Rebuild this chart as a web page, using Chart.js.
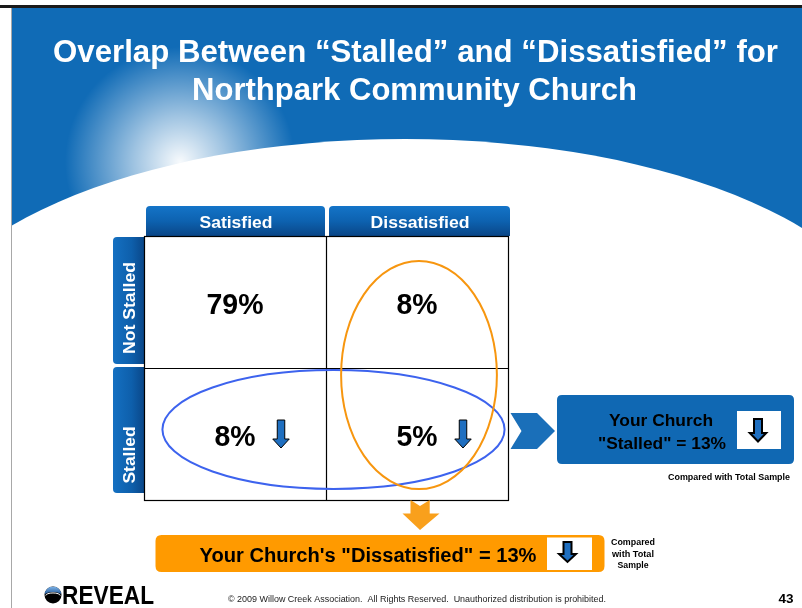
<!DOCTYPE html>
<html><head><meta charset="utf-8">
<script src="https://cdn.jsdelivr.net/npm/chart.js@4.4.1/dist/chart.umd.min.js"></script>
<style>html,body{margin:0;padding:0;background:#fff;overflow:hidden}canvas{display:block}</style>
</head><body>
<canvas id="c" width="802" height="608" style="width:802px;height:608px"></canvas>
<script>
// ---- data ----
const titleLines = ['Overlap Between \u201cStalled\u201d and \u201cDissatisfied\u201d for', 'Northpark Community Church'];
const satisfaction = ['Satisfied', 'Dissatisfied'];
const stallStatus = ['Not Stalled', 'Stalled'];
const cellSatisfaction = ['Satisfied', 'Dissatisfied', 'Satisfied', 'Dissatisfied'];
const cellStatus = ['Not Stalled', 'Not Stalled', 'Stalled', 'Stalled'];
const cellPercent = [79, 8, 8, 5];
const cellTrendDown = [false, false, true, true];
const stalledTotal = 13;
const dissatisfiedTotal = 13;
const footerText = '\u00a9 2009 Willow Creek Association.  All Rights Reserved.  Unauthorized distribution is prohibited.';
const pageNumber = '43';

const FONT = '"Liberation Sans", Arial, Helvetica, sans-serif';

function fitText(ctx, text, x, y, size, color, width, align, weight) {
  ctx.save();
  ctx.font = (weight || 'bold') + ' ' + size + 'px ' + FONT;
  ctx.fillStyle = color;
  ctx.textBaseline = 'alphabetic';
  ctx.textAlign = align || 'center';
  const m = ctx.measureText(text).width;
  const s = width ? width / m : 1;
  ctx.translate(x, y);
  ctx.scale(s, 1);
  ctx.fillText(text, 0, 0);
  ctx.restore();
}
function rr(ctx, x, y, w, h, r) { // r = [tl,tr,br,bl]
  const [tl, tr, br, bl] = r;
  ctx.beginPath();
  ctx.moveTo(x + tl, y);
  ctx.lineTo(x + w - tr, y); ctx.quadraticCurveTo(x + w, y, x + w, y + tr);
  ctx.lineTo(x + w, y + h - br); ctx.quadraticCurveTo(x + w, y + h, x + w - br, y + h);
  ctx.lineTo(x + bl, y + h); ctx.quadraticCurveTo(x, y + h, x, y + h - bl);
  ctx.lineTo(x, y + tl); ctx.quadraticCurveTo(x, y, x + tl, y);
  ctx.closePath();
}
function downArrow(ctx, cx, top, headTop, tip, shaftW, headW, fill, stroke, lw) {
  ctx.save();
  ctx.beginPath();
  ctx.moveTo(cx - shaftW / 2, top);
  ctx.lineTo(cx + shaftW / 2, top);
  ctx.lineTo(cx + shaftW / 2, headTop);
  ctx.lineTo(cx + headW / 2, headTop);
  ctx.lineTo(cx, tip);
  ctx.lineTo(cx - headW / 2, headTop);
  ctx.lineTo(cx - shaftW / 2, headTop);
  ctx.closePath();
  ctx.fillStyle = fill; ctx.fill();
  ctx.lineWidth = lw; ctx.strokeStyle = stroke; ctx.lineJoin = 'miter'; ctx.stroke();
  ctx.restore();
}

const slidePlugin = {
  id: 'slide',
  beforeDraw(chart) {
    const ctx = chart.ctx, ca = chart.chartArea, xs = chart.scales.x, ys = chart.scales.y;
    ctx.save();
    ctx.fillStyle = '#fff'; ctx.fillRect(0, 0, chart.width, chart.height);
    // header band
    ctx.fillStyle = '#106bb6'; ctx.fillRect(12, 8, 790, 235);
    const g = ctx.createRadialGradient(180, 162, 0, 180, 162, 115);
    g.addColorStop(0, 'rgba(255,255,255,0.97)');
    g.addColorStop(0.4, 'rgba(255,255,255,0.6)');
    g.addColorStop(1, 'rgba(255,255,255,0)');
    ctx.fillStyle = g; ctx.fillRect(12, 8, 790, 235);
    ctx.fillStyle = '#fff';
    ctx.beginPath(); ctx.ellipse(405, 354, 490, 215, 0, 0, Math.PI * 2); ctx.fill();
    // frame lines
    ctx.fillStyle = '#a8a8a8'; ctx.fillRect(11, 8, 1, 600);
    ctx.fillStyle = '#1a1a1a'; ctx.fillRect(0, 5, 802, 3);
    // title
    fitText(ctx, titleLines[0], 415.5, 62, 32, '#fff', 725);
    fitText(ctx, titleLines[1], 414.5, 100, 32, '#fff', 445);

    // column header tabs
    const mid = (xs.getPixelForValue(0) + xs.getPixelForValue(1)) / 2;
    const tabTop = ca.top - 30;
    const tabs = [[ca.left + 2, mid - 1], [mid + 3, ca.right + 2]];
    tabs.forEach((t, i) => {
      const gr = ctx.createLinearGradient(0, tabTop, 0, ca.top);
      gr.addColorStop(0, '#1474c8'); gr.addColorStop(0.5, '#0d62b0'); gr.addColorStop(1, '#0a4687');
      ctx.fillStyle = gr;
      rr(ctx, t[0], tabTop, t[1] - t[0], 30, [4, 4, 0, 0]); ctx.fill();
      const w = i === 0 ? 73 : 99;
      fitText(ctx, satisfaction[i], (t[0] + t[1]) / 2 + 0.5, tabTop + 22, 17, '#fff', w);
    });
    // row tabs
    const rmid = (ys.getPixelForValue(0) + ys.getPixelForValue(1)) / 2;
    const rows = [[ca.top + 1, rmid - 4], [rmid - 1, ca.bottom - 7]];
    rows.forEach((r, i) => {
      const gr = ctx.createLinearGradient(ca.left - 31, 0, ca.left, 0);
      gr.addColorStop(0, '#1470c2'); gr.addColorStop(0.6, '#0e5fab'); gr.addColorStop(1, '#0a4789');
      ctx.fillStyle = gr;
      rr(ctx, ca.left - 31, r[0], 31, r[1] - r[0], [4, 0, 0, 4]); ctx.fill();
      ctx.save();
      const cy = i === 0 ? 308 : 455;
      ctx.translate(ca.left - 9, cy);
      ctx.rotate(-Math.PI / 2);
      fitText(ctx, stallStatus[i], 0, 0, 17, '#fff', i === 0 ? 92 : 57);
      ctx.restore();
    });
    ctx.restore();
  },
  beforeDatasetsDraw(chart) {
    const ctx = chart.ctx, ca = chart.chartArea, xs = chart.scales.x, ys = chart.scales.y;
    const mid = (xs.getPixelForValue(0) + xs.getPixelForValue(1)) / 2;
    const rmid = (ys.getPixelForValue(0) + ys.getPixelForValue(1)) / 2;
    ctx.save();
    ctx.strokeStyle = '#000'; ctx.lineWidth = 1.2;
    ctx.strokeRect(ca.left + 0.5, ca.top + 0.5, ca.right - ca.left, ca.bottom - ca.top);
    ctx.beginPath();
    ctx.moveTo(mid + 0.5, ca.top); ctx.lineTo(mid + 0.5, ca.bottom + 0.5);
    ctx.moveTo(ca.left, rmid + 0.5); ctx.lineTo(ca.right + 0.5, rmid + 0.5);
    ctx.stroke();
    ctx.restore();
  },
  afterDatasetsDraw(chart) {
    const ctx = chart.ctx, ca = chart.chartArea, xs = chart.scales.x, ys = chart.scales.y;
    const meta = chart.getDatasetMeta(0);
    ctx.save();
    meta.data.forEach((pt, i) => {
      const p = cellPercent[i] + '%';
      fitText(ctx, p, pt.x, pt.y + 12, 29, '#000', p.length === 3 ? 57 : 41);
      if (cellTrendDown[i]) {
        downArrow(ctx, pt.x + 46, pt.y - 14, pt.y + 5, pt.y + 14, 7.5, 16.5, '#1f6fc0', '#000', 1);
      }
    });
    // ellipses
    const W = ca.right - ca.left, H = ca.bottom - ca.top;
    const xMid = (xs.getPixelForValue(0) + xs.getPixelForValue(1)) / 2;
    const yStalled = ys.getPixelForValue(1);
    const xDis = xs.getPixelForValue(1);
    const yMid = (ys.getPixelForValue(0) + ys.getPixelForValue(1)) / 2;
    ctx.lineWidth = 2;
    ctx.strokeStyle = '#3d63ee';
    ctx.beginPath(); ctx.ellipse(xMid + 7.5, yStalled - 4.5, W * 0.47, H * 0.225, 0, 0, Math.PI * 2); ctx.stroke();
    ctx.strokeStyle = '#f7960f';
    ctx.beginPath(); ctx.ellipse(xDis + 2, yMid + 7, W * 0.214, H * 0.432, 0, 0, Math.PI * 2); ctx.stroke();

    // right chevron + box
    ctx.fillStyle = '#1a6fb9';
    ctx.beginPath();
    ctx.moveTo(510.5, 413); ctx.lineTo(537, 413); ctx.lineTo(555, 431); ctx.lineTo(537, 449);
    ctx.lineTo(510.5, 449); ctx.lineTo(521.5, 431); ctx.closePath(); ctx.fill();
    ctx.fillStyle = '#1068b3';
    rr(ctx, 557, 395, 237, 69, [5, 5, 5, 5]); ctx.fill();
    ctx.fillStyle = '#fff'; ctx.fillRect(737, 411, 44, 38);
    downArrow(ctx, 758, 419, 433, 441.5, 8, 16.5, '#1f6fc0', '#000', 2);
    fitText(ctx, 'Your Church', 661, 426, 17, '#000', 104);
    fitText(ctx, '"Stalled" = ' + stalledTotal + '%', 662, 448.5, 17, '#000', 128);
    fitText(ctx, 'Compared with Total Sample', 729, 480, 9, '#000', 122);

    // bottom orange chevron + box
    ctx.fillStyle = '#f9a01c';
    ctx.beginPath();
    ctx.moveTo(410.5, 500); ctx.lineTo(420, 506); ctx.lineTo(429.7, 500); ctx.lineTo(429.7, 513.5);
    ctx.lineTo(439.5, 513.5); ctx.lineTo(420, 530); ctx.lineTo(402.5, 513.5); ctx.lineTo(410.5, 513.5);
    ctx.closePath(); ctx.fill();
    ctx.fillStyle = '#ff9a00';
    rr(ctx, 155.5, 535, 449, 37, [6, 6, 6, 6]); ctx.fill();
    ctx.fillStyle = '#fff'; ctx.fillRect(547, 537.5, 45, 32.5);
    downArrow(ctx, 567.5, 542, 554, 562, 8, 17, '#1f6fc0', '#000', 2);
    fitText(ctx, 'Your Church\'s "Dissatisfied" = ' + dissatisfiedTotal + '%', 368, 561.5, 20, '#000', 337);
    fitText(ctx, 'Compared', 633, 545, 9, '#000', 44);
    fitText(ctx, 'with Total', 633, 556.5, 9, '#000', 42);
    fitText(ctx, 'Sample', 633, 568, 9, '#000', 31);

    // footer
    fitText(ctx, footerText, 417, 602, 9, '#222', 378, 'center', 'normal');
    fitText(ctx, pageNumber, 786, 603, 12, '#000', 15);
    // REVEAL logo
    const lx = 53, ly = 595, lr = 8.5;
    ctx.fillStyle = '#000';
    ctx.beginPath(); ctx.arc(lx, ly, lr, 0, Math.PI * 2); ctx.fill();
    ctx.save();
    ctx.beginPath(); ctx.arc(lx, ly, lr, 0, Math.PI * 2); ctx.clip();
    const bg = ctx.createLinearGradient(0, ly - lr, 0, ly);
    bg.addColorStop(0, '#7fb5ea'); bg.addColorStop(1, '#1b4f8e');
    ctx.fillStyle = bg;
    ctx.beginPath(); ctx.ellipse(lx, ly, lr, lr * 0.35, 0, Math.PI, 0, false); ctx.lineTo(lx + lr, ly - lr); ctx.lineTo(lx - lr, ly - lr); ctx.closePath(); ctx.fill();
    ctx.strokeStyle = '#fff'; ctx.lineWidth = 1;
    ctx.beginPath(); ctx.ellipse(lx, ly + 0.5, lr * 0.85, lr * 0.3, 0, Math.PI, 0, false); ctx.stroke();
    ctx.restore();
    fitText(ctx, 'REVEAL', 62, 604, 25, '#000', 92, 'left', '900');
    ctx.restore();
  }
};

new Chart(document.getElementById('c'), {
  type: 'scatter',
  data: {
    datasets: [{
      label: 'Share of congregation',
      data: cellPercent.map((v, i) => ({ x: cellSatisfaction[i], y: cellStatus[i], v })),
      pointRadius: 0, pointHoverRadius: 0, showLine: false
    }]
  },
  options: {
    responsive: false, animation: false, events: [],
    layout: { padding: { left: 144, top: 236, right: 294, bottom: 108 } },
    plugins: { legend: { display: false }, tooltip: { enabled: false }, title: { display: false } },
    scales: {
      x: { type: 'category', labels: satisfaction, offset: true, display: false },
      y: { type: 'category', labels: stallStatus, offset: true, display: false }
    }
  },
  plugins: [slidePlugin]
});
</script>
</body></html>
